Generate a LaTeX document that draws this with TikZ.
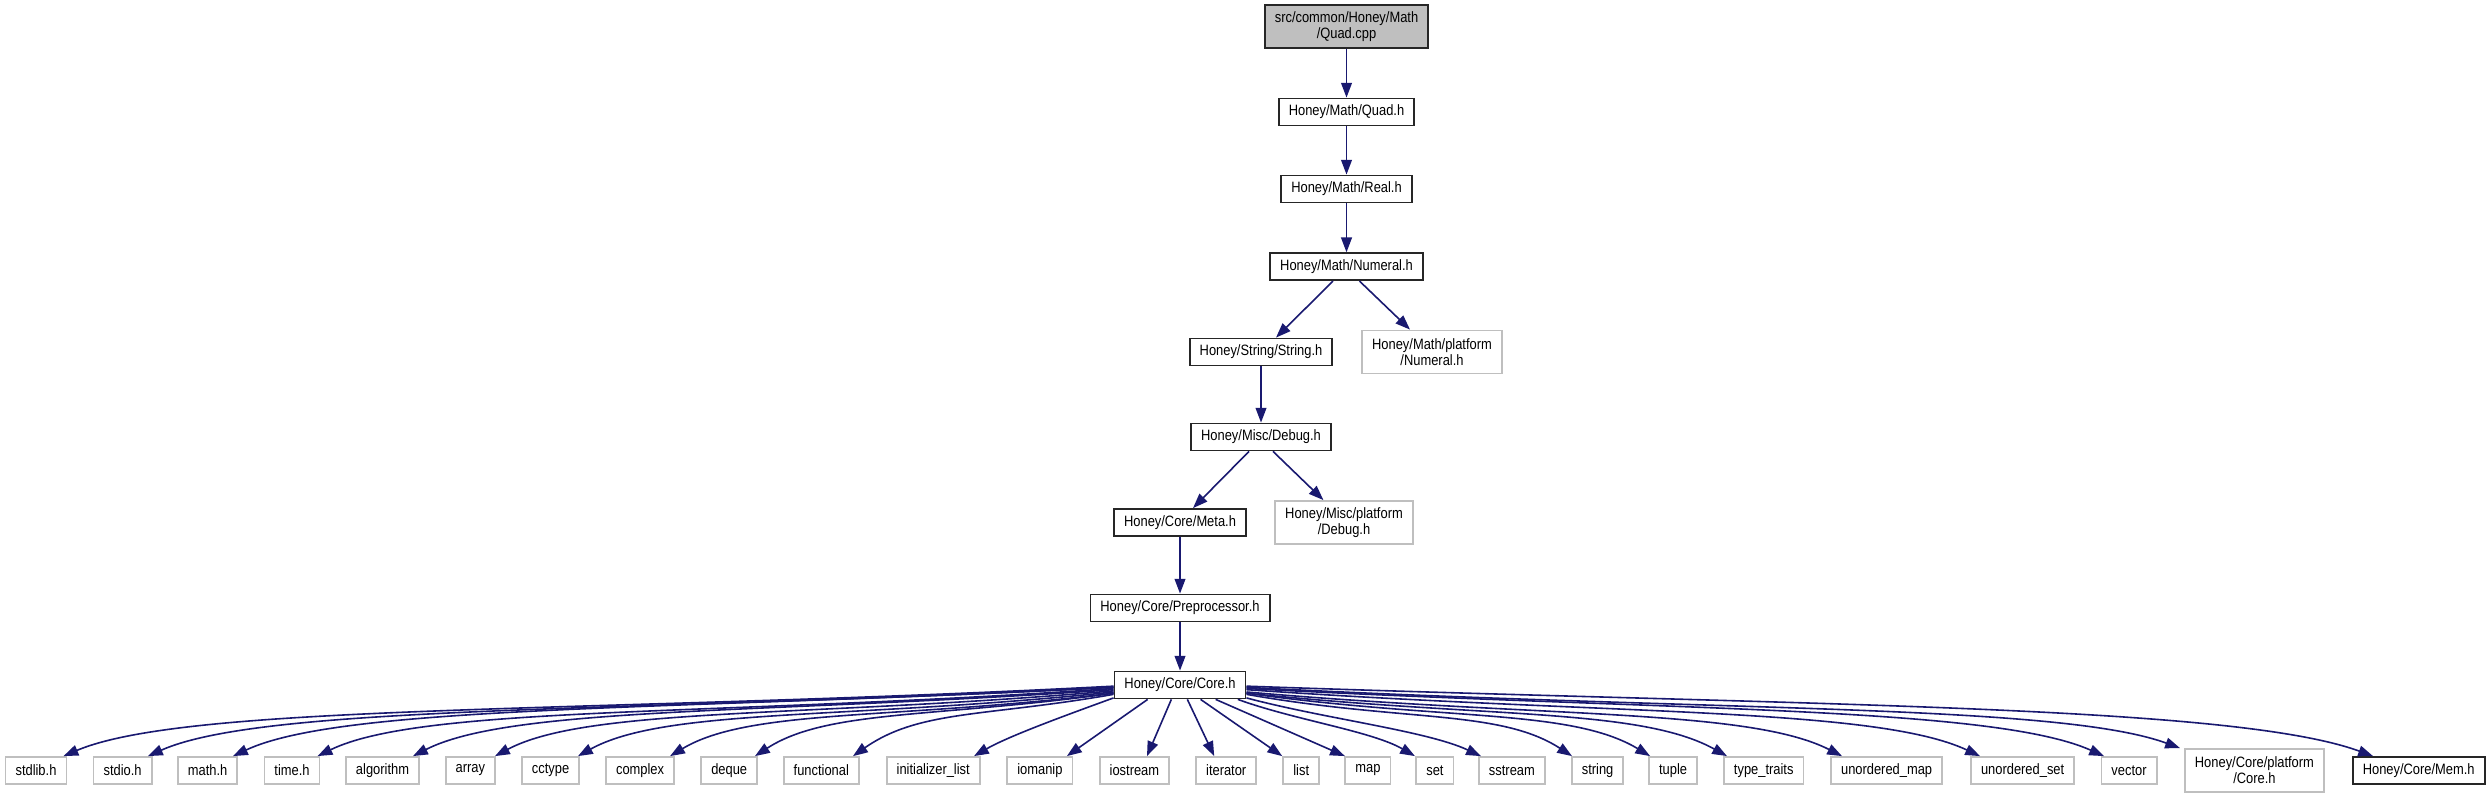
\documentclass[tikz,border=0pt]{standalone}
\usepackage{fontspec}
\setmainfont{Liberation Sans}[FakeStretch=0.86]
\usetikzlibrary{arrows.meta}
\definecolor{edgeblue}{HTML}{191970}
\definecolor{extgray}{HTML}{BFBFBF}

\begin{document}
\begin{tikzpicture}[x=0.25pt, y=0.25pt, line width=0.45pt,
  file/.style={draw=black!85, rectangle, inner xsep=2.5pt, inner ysep=0pt,
    minimum height=6.75pt, align=center, font=\fontsize{3.75}{4}\selectfont},
  twoline/.style={minimum height=10.75pt},
  sysfile/.style={file, draw=extgray},
  dep/.style={draw=edgeblue, line width=0.4pt, -{Triangle[length=3.7pt,width=2.7pt]}}]
  \useasboundingbox (0,0) rectangle (2492,-800);

  % include chain
  \node[file, fill=extgray, twoline] (quadcpp) at (1346.5,-26.5) {src/common/Honey/Math\\/Quad.cpp};
  \node[file] (quadh) at (1346.5,-112) {Honey/Math/Quad.h};
  \node[file] (realh) at (1346.5,-189) {Honey/Math/Real.h};
  \node[file] (numeralh) at (1346.5,-266.7) {Honey/Math/Numeral.h};
  \node[file] (stringh) at (1261,-352) {Honey/String/String.h};
  \node[sysfile, twoline] (numplat) at (1432,-352) {Honey/Math/platform\\/Numeral.h};
  \node[file] (debugh) at (1261,-437) {Honey/Misc/Debug.h};
  \node[file] (metah) at (1180,-522.5) {Honey/Core/Meta.h};
  \node[sysfile, twoline] (debplat) at (1344,-522.5) {Honey/Misc/platform\\/Debug.h};
  \node[file] (preproc) at (1180,-608) {Honey/Core/Preprocessor.h};
  \node[file] (coreh) at (1180,-685) {Honey/Core/Core.h};

  % headers pulled in by Core.h
  \node[sysfile] (stdlibh) at (36,-770.5) {stdlib.h};
  \node[sysfile] (stdioh) at (122.6,-770.5) {stdio.h};
  \node[sysfile] (mathh) at (207.6,-770.5) {math.h};
  \node[sysfile] (timeh) at (292,-770.5) {time.h};
  \node[sysfile] (algorithm) at (382.5,-770.5) {algorithm};
  \node[sysfile] (array) at (470.4,-770.5) {array};
  \node[sysfile] (cctype) at (550.6,-770.5) {cctype};
  \node[sysfile] (complex) at (640.1,-770.5) {complex};
  \node[sysfile] (deque) at (729.2,-770.5) {deque};
  \node[sysfile] (functional) at (821.3,-770.5) {functional};
  \node[sysfile] (initlist) at (933.2,-770.5) {initializer\_list};
  \node[sysfile] (iomanip) at (1039.9,-770.5) {iomanip};
  \node[sysfile] (iostream) at (1134.4,-770.5) {iostream};
  \node[sysfile] (iterator) at (1226.2,-770.5) {iterator};
  \node[sysfile] (list) at (1301.2,-770.5) {list};
  \node[sysfile] (map) at (1367.9,-770.5) {map};
  \node[sysfile] (set) at (1434.9,-770.5) {set};
  \node[sysfile] (sstream) at (1511.9,-770.5) {sstream};
  \node[sysfile] (string) at (1597.6,-770.5) {string};
  \node[sysfile] (tuple) at (1673.1,-770.5) {tuple};
  \node[sysfile] (typetraits) at (1763.7,-770.5) {type\_traits};
  \node[sysfile] (umap) at (1886.6,-770.5) {unordered\_map};
  \node[sysfile] (uset) at (2022.6,-770.5) {unordered\_set};
  \node[sysfile] (vector) at (2129,-770.5) {vector};
  \node[sysfile, twoline] (coreplat) at (2254.4,-770.5) {Honey/Core/platform\\/Core.h};
  \node[file] (memh) at (2418.7,-770.5) {Honey/Core/Mem.h};

  \draw[dep] (quadcpp) -- (quadh);
  \draw[dep] (quadh) -- (realh);
  \draw[dep] (realh) -- (numeralh);
  \draw[dep] ([shift={(-13.5,0)}]numeralh.south) -- ([shift={(15,0)}]stringh.north);
  \draw[dep] ([shift={(13,0)}]numeralh.south) -- ([shift={(-22,0)}]numplat.north);
  \draw[dep] (stringh) -- (debugh);
  \draw[dep] ([shift={(-12,0)}]debugh.south) -- ([shift={(13,0)}]metah.north);
  \draw[dep] ([shift={(12,0)}]debugh.south) -- ([shift={(-20.6,0)}]debplat.north);
  \draw[dep] (metah) -- (preproc);
  \draw[dep] (preproc) -- (coreh);

  % fan to the left
  \draw[dep] (coreh.181) .. controls +(183:520) and +(23:136) .. ([shift={(27.5,0)}]stdlibh.north);
  \draw[dep] (coreh.182) .. controls +(183:480) and +(24:128) .. ([shift={(25.4,0)}]stdioh.north);
  \draw[dep] (coreh.182) .. controls +(183:440) and +(25:122) .. ([shift={(25.4,0)}]mathh.north);
  \draw[dep] (coreh.183) .. controls +(184:400) and +(26:116) .. ([shift={(25.6,0)}]timeh.north);
  \draw[dep] (coreh.184) .. controls +(184:350) and +(27:110) .. ([shift={(30.5,0)}]algorithm.north);
  \draw[dep] (coreh.185) .. controls +(185:308) and +(28:105) .. ([shift={(24.6,0)}]array.north);
  \draw[dep] (coreh.186) .. controls +(186:266) and +(29:100) .. ([shift={(27.4,0)}]cctype.north);
  \draw[dep] (coreh.187) .. controls +(187:220) and +(31:93) .. ([shift={(30,0)}]complex.north);
  \draw[dep] (coreh.187) .. controls +(188:178) and +(33:86) .. ([shift={(25.8,0)}]deque.north);
  \draw[dep] (coreh.188) .. controls +(190:130) and +(35:81) .. ([shift={(31.7,0)}]functional.north);
  \draw[dep] (coreh.191) .. controls +(200:50) and +(30:40) .. ([shift={(40.8,0)}]initlist.north);

  % straight below
  \draw[dep] (coreh.204) -- ([shift={(27,0)}]iomanip.north);
  \draw[dep] (coreh.239) -- ([shift={(12.6,0)}]iostream.north);
  \draw[dep] (coreh.297) -- ([shift={(-12,0)}]iterator.north);
  \draw[dep] (coreh.325) -- ([shift={(-19,0)}]list.north);
  \draw[dep] (coreh.338) -- ([shift={(-23,0)}]map.north);
  \draw[dep] (coreh.346) .. controls +(-20:60) and +(150:50) .. ([shift={(-20,0)}]set.north);
  \draw[dep] (coreh.349) .. controls +(-15:80) and +(155:60) .. ([shift={(-31,0)}]sstream.north);

  % fan to the right
  \draw[dep] (coreh.-8) .. controls +(-10:160) and +(147:86) .. ([shift={(-25.6,0)}]string.north);
  \draw[dep] (coreh.-7) .. controls +(-8:200) and +(149:93) .. ([shift={(-23,0)}]tuple.north);
  \draw[dep] (coreh.-7) .. controls +(-6:240) and +(151:100) .. ([shift={(-36.7,0)}]typetraits.north);
  \draw[dep] (coreh.-6) .. controls +(-5:297) and +(153:105) .. ([shift={(-44.6,0)}]umap.north);
  \draw[dep] (coreh.-4) .. controls +(-4:366) and +(155:116) .. ([shift={(-42.6,0)}]uset.north);
  \draw[dep] (coreh.-3) .. controls +(-3:428) and +(156:122) .. ([shift={(-25,0)}]vector.north);
  \draw[dep] (coreh.-2) .. controls +(-3:465) and +(160:130) .. ([shift={(-4,0)}]coreplat.north west);
  \draw[dep] (coreh.-1) .. controls +(-2:560) and +(160:150) .. ([shift={(-45.7,0)}]memh.north);
\end{tikzpicture}
\end{document}
